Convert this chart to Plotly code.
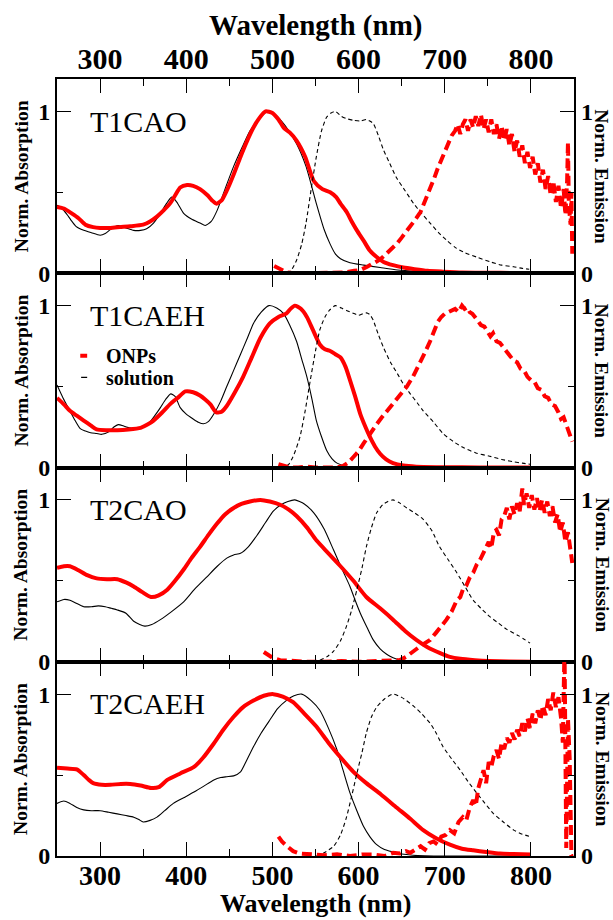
import plotly.graph_objects as go

FONT = "Liberation Serif, Times New Roman, serif"

panel_names = ["T1CAO", "T1CAEH", "T2CAO", "T2CAEH"]
tick_vals_x = [300, 400, 500, 600, 700, 800]

# ---------------- T1CAO ----------------
t1cao_onp_abs_wl = [250, 258, 267, 275, 283, 292, 300, 312, 323, 335, 350, 358, 366, 374, 381, 387, 393, 401, 408, 416, 425, 430, 435, 441, 447, 455, 463, 470, 478, 485, 492, 500, 507, 513, 520, 528, 538, 548, 558, 567, 574, 579, 586, 592, 598, 606, 613, 621, 629, 640, 652, 665, 680, 698, 720, 750, 780, 800]
t1cao_onp_abs = [0.41, 0.40, 0.37, 0.34, 0.30, 0.285, 0.28, 0.28, 0.285, 0.29, 0.30, 0.32, 0.35, 0.39, 0.43, 0.48, 0.53, 0.545, 0.54, 0.52, 0.48, 0.45, 0.43, 0.45, 0.51, 0.61, 0.72, 0.81, 0.90, 0.96, 1.0, 0.99, 0.95, 0.90, 0.87, 0.82, 0.72, 0.57, 0.52, 0.50, 0.47, 0.43, 0.38, 0.32, 0.265, 0.20, 0.14, 0.10, 0.07, 0.05, 0.035, 0.025, 0.015, 0.01, 0.005, 0.003, 0.002, 0.0]
t1cao_sol_abs_wl = [250, 256, 262, 266, 272, 281, 290, 300, 306, 312, 321, 330, 339, 347, 354, 362, 370, 377, 383, 389, 397, 406, 416, 422, 429, 436, 445, 455, 465, 474, 484, 494, 505, 515, 528, 539, 551, 560, 567, 573, 579, 590, 606, 625, 645, 670, 698, 730, 770, 800]
t1cao_sol_abs = [0.42, 0.40, 0.36, 0.33, 0.29, 0.265, 0.25, 0.235, 0.245, 0.27, 0.295, 0.28, 0.265, 0.265, 0.275, 0.31, 0.37, 0.43, 0.47, 0.44, 0.37, 0.335, 0.31, 0.295, 0.32, 0.39, 0.52, 0.66, 0.78, 0.88, 0.95, 1.0, 0.97, 0.91, 0.80, 0.66, 0.43, 0.27, 0.18, 0.12, 0.09, 0.065, 0.05, 0.035, 0.02, 0.012, 0.006, 0.003, 0.001, 0.0]
t1cao_sol_em_wl = [517, 522, 528, 534, 539, 545, 551, 557, 563, 568, 573, 580, 586, 594, 602, 609, 613, 617, 623, 629, 636, 644, 654, 664, 673, 683, 693, 703, 712, 722, 737, 753, 766, 780, 790, 798]
t1cao_sol_em = [0.0, 0.02, 0.08, 0.18, 0.31, 0.52, 0.72, 0.88, 0.965, 0.99, 1.0, 0.97, 0.955, 0.945, 0.94, 0.95, 0.94, 0.925, 0.85, 0.76, 0.68, 0.59, 0.51, 0.43, 0.37, 0.31, 0.25, 0.20, 0.16, 0.13, 0.10, 0.07, 0.05, 0.04, 0.03, 0.025]
t1cao_onp_em_wl = [502, 507, 512, 517, 525, 535, 545, 555, 565, 575, 585, 595, 602, 610, 617, 625, 632, 638, 644, 650, 656, 662, 667, 672, 676, 680, 684, 688, 692, 696, 700, 704, 708, 712, 715, 718, 721, 724, 727, 730, 733, 736, 739, 742, 745, 748, 751, 754, 757, 760, 763, 766, 769, 772, 775, 778, 781, 784, 787, 790, 793, 796, 799, 802, 805, 808, 811, 814, 817, 820, 823, 826, 829, 832, 835, 838, 840, 842, 843, 844, 846, 847, 848]
t1cao_onp_em = [0.045, 0.03, 0.015, 0.005, 0.0, 0.0, 0.0, 0.0, 0.0, 0.005, 0.005, 0.015, 0.02, 0.04, 0.06, 0.085, 0.12, 0.15, 0.18, 0.22, 0.26, 0.30, 0.34, 0.38, 0.43, 0.48, 0.53, 0.59, 0.65, 0.70, 0.76, 0.80, 0.85, 0.88, 0.92, 0.86, 0.92, 0.95, 0.88, 0.95, 0.90, 0.97, 0.91, 0.98, 0.89, 0.95, 0.87, 0.95, 0.86, 0.92, 0.83, 0.91, 0.82, 0.89, 0.79, 0.86, 0.75, 0.82, 0.72, 0.79, 0.68, 0.75, 0.65, 0.72, 0.61, 0.68, 0.56, 0.64, 0.52, 0.60, 0.48, 0.57, 0.44, 0.54, 0.40, 0.52, 0.36, 0.57, 0.81, 0.42, 0.30, 0.50, 0.12]

# ---------------- T1CAEH ----------------
t1caeh_onp_abs_wl = [250, 258, 265, 273, 281, 289, 296, 308, 320, 333, 347, 355, 362, 372, 381, 390, 399, 408, 416, 422, 428, 435, 441, 447, 456, 466, 476, 486, 497, 507, 516, 521, 526, 533, 540, 547, 555, 561, 567, 573, 579, 585, 590, 596, 602, 608, 613, 619, 625, 632, 640, 652, 667, 690, 720, 760, 800]
t1caeh_onp_abs = [0.43, 0.39, 0.35, 0.32, 0.29, 0.26, 0.235, 0.23, 0.23, 0.235, 0.245, 0.265, 0.29, 0.34, 0.39, 0.43, 0.47, 0.465, 0.445, 0.42, 0.39, 0.34, 0.345, 0.38, 0.46, 0.56, 0.68, 0.80, 0.89, 0.93, 0.95, 0.98, 1.0, 0.98, 0.93, 0.85, 0.76, 0.73, 0.72, 0.70, 0.68, 0.62, 0.54, 0.44, 0.33, 0.25, 0.19, 0.13, 0.085, 0.05, 0.027, 0.012, 0.005, 0.002, 0.001, 0.0, 0.0]
t1caeh_sol_abs_wl = [250, 257, 265, 271, 277, 283, 289, 296, 302, 310, 316, 321, 328, 334, 339, 346, 354, 362, 370, 376, 382, 387, 393, 400, 408, 414, 420, 426, 432, 440, 447, 455, 463, 471, 478, 487, 496, 505, 513, 520, 528, 534, 540, 546, 551, 557, 563, 569, 575, 586, 600, 630, 700, 800]
t1caeh_sol_abs = [0.51, 0.43, 0.35, 0.29, 0.24, 0.225, 0.215, 0.21, 0.205, 0.22, 0.25, 0.265, 0.255, 0.245, 0.24, 0.245, 0.26, 0.31, 0.37, 0.42, 0.455, 0.44, 0.37, 0.33, 0.30, 0.28, 0.27, 0.285, 0.33, 0.41, 0.50, 0.60, 0.70, 0.80, 0.89, 0.96, 1.0, 0.985, 0.95, 0.88, 0.78, 0.67, 0.56, 0.42, 0.29, 0.19, 0.105, 0.055, 0.027, 0.008, 0.003, 0.001, 0.0, 0.0]
t1caeh_sol_em_wl = [509, 514, 519, 525, 532, 538, 544, 550, 555, 561, 566, 573, 580, 586, 593, 600, 605, 609, 613, 617, 623, 629, 637, 645, 652, 660, 668, 675, 687, 698, 710, 721, 736, 752, 766, 780, 790, 799]
t1caeh_sol_em = [0.0, 0.005, 0.02, 0.08, 0.19, 0.35, 0.54, 0.72, 0.85, 0.93, 0.97, 1.0, 0.985, 0.97, 0.955, 0.94, 0.95, 0.955, 0.945, 0.91, 0.82, 0.74, 0.65, 0.58, 0.515, 0.455, 0.40, 0.35, 0.28, 0.21, 0.16, 0.125, 0.09, 0.07, 0.05, 0.035, 0.027, 0.02]
t1caeh_onp_em_wl = [507, 512, 520, 530, 540, 550, 560, 570, 575, 582, 588, 594, 600, 606, 613, 620, 627, 636, 645, 656, 663, 671, 677, 683, 688, 692, 696, 700, 704, 708, 712, 716, 720, 723, 726, 729, 732, 735, 738, 742, 746, 750, 753, 756, 760, 764, 768, 772, 776, 780, 784, 788, 792, 796, 800, 804, 808, 812, 816, 820, 824, 828, 832, 835, 838, 841, 844, 846, 848]
t1caeh_onp_em = [0.02, 0.01, 0.0, 0.0, 0.005, 0.0, 0.0, 0.005, 0.0, 0.01, 0.03, 0.065, 0.10, 0.15, 0.21, 0.26, 0.31, 0.37, 0.43, 0.50, 0.56, 0.64, 0.71, 0.78, 0.85, 0.90, 0.93, 0.95, 0.96, 0.97, 0.98, 0.96, 1.0, 0.98, 0.99, 0.96, 0.95, 0.93, 0.91, 0.88, 0.87, 0.84, 0.81, 0.83, 0.78, 0.77, 0.74, 0.72, 0.69, 0.66, 0.65, 0.61, 0.60, 0.56, 0.54, 0.53, 0.49, 0.48, 0.44, 0.43, 0.39, 0.38, 0.34, 0.30, 0.31, 0.26, 0.23, 0.19, 0.16]

# ---------------- T2CAO ----------------
t2cao_onp_abs_wl = [250, 258, 265, 275, 285, 296, 308, 320, 330, 339, 349, 359, 368, 378, 387, 397, 406, 416, 426, 436, 445, 455, 464, 474, 486, 497, 509, 519, 528, 540, 551, 565, 579, 594, 609, 625, 640, 654, 667, 680, 694, 706, 718, 735, 752, 775, 800]
t2cao_onp_abs = [0.58, 0.59, 0.59, 0.565, 0.535, 0.515, 0.51, 0.51, 0.49, 0.465, 0.43, 0.40, 0.41, 0.445, 0.50, 0.57, 0.64, 0.71, 0.785, 0.855, 0.91, 0.95, 0.975, 0.99, 1.0, 0.99, 0.97, 0.94, 0.90, 0.83, 0.75, 0.67, 0.59, 0.50, 0.40, 0.33, 0.26, 0.19, 0.135, 0.09, 0.055, 0.03, 0.018, 0.01, 0.005, 0.002, 0.0]
t2cao_sol_abs_wl = [250, 258, 265, 273, 281, 290, 298, 306, 313, 320, 330, 339, 346, 352, 360, 370, 383, 397, 410, 424, 436, 447, 455, 463, 472, 482, 492, 501, 510, 518, 526, 537, 548, 560, 571, 581, 590, 596, 602, 610, 617, 625, 633, 640, 648, 660, 680, 720, 800]
t2cao_sol_abs = [0.37, 0.385, 0.38, 0.36, 0.34, 0.34, 0.345, 0.34, 0.33, 0.32, 0.30, 0.25, 0.23, 0.22, 0.23, 0.26, 0.31, 0.37, 0.45, 0.525, 0.59, 0.64, 0.66, 0.67, 0.71, 0.78, 0.86, 0.93, 0.97, 0.99, 1.0, 0.975, 0.92, 0.82, 0.69, 0.57, 0.465, 0.38, 0.30, 0.21, 0.135, 0.08, 0.045, 0.025, 0.012, 0.005, 0.002, 0.0, 0.0]
t2cao_sol_em_wl = [555, 563, 571, 579, 586, 592, 598, 604, 609, 615, 621, 628, 634, 640, 648, 656, 665, 675, 685, 694, 704, 714, 724, 733, 742, 752, 762, 772, 786, 799]
t2cao_sol_em = [0.01, 0.03, 0.065, 0.13, 0.22, 0.32, 0.445, 0.58, 0.71, 0.83, 0.92, 0.97, 0.99, 1.0, 0.98, 0.95, 0.92, 0.88, 0.81, 0.71, 0.63, 0.55, 0.46, 0.38, 0.33, 0.28, 0.24, 0.20, 0.16, 0.115]
t2cao_onp_em_wl = [490, 495, 500, 509, 520, 540, 560, 580, 600, 620, 640, 648, 655, 663, 670, 677, 683, 690, 696, 702, 708, 714, 718, 721, 725, 729, 733, 737, 741, 745, 748, 751, 754, 757, 760, 763, 766, 769, 772, 775, 778, 781, 784, 787, 790, 792, 795, 798, 801, 804, 807, 810, 813, 816, 819, 822, 825, 828, 831, 834, 837, 840, 843, 846, 848]
t2cao_onp_em = [0.06, 0.04, 0.025, 0.01, 0.005, 0.0, 0.0, 0.005, 0.0, 0.005, 0.01, 0.01, 0.03, 0.065, 0.09, 0.115, 0.135, 0.18, 0.22, 0.26, 0.31, 0.38, 0.40, 0.445, 0.47, 0.52, 0.55, 0.60, 0.63, 0.67, 0.71, 0.74, 0.70, 0.80, 0.815, 0.78, 0.88, 0.90, 0.95, 0.88, 0.96, 0.91, 0.98, 0.93, 1.07, 0.97, 1.04, 0.95, 1.03, 0.94, 1.01, 0.93, 1.00, 0.92, 0.99, 0.90, 0.96, 0.86, 0.91, 0.80, 0.86, 0.74, 0.80, 0.68, 0.61]

# ---------------- T2CAEH ----------------
t2caeh_onp_abs_wl = [250, 262, 273, 281, 287, 292, 302, 312, 324, 335, 347, 359, 368, 378, 393, 409, 420, 432, 443, 455, 466, 478, 490, 501, 512, 524, 537, 551, 565, 579, 594, 609, 626, 644, 660, 675, 690, 706, 720, 733, 748, 764, 780, 800]
t2caeh_onp_abs = [0.545, 0.54, 0.535, 0.50, 0.47, 0.45, 0.44, 0.44, 0.445, 0.445, 0.435, 0.42, 0.425, 0.47, 0.51, 0.55, 0.61, 0.695, 0.78, 0.86, 0.92, 0.96, 0.99, 1.0, 0.985, 0.95, 0.88, 0.80, 0.70, 0.61, 0.52, 0.45, 0.38, 0.30, 0.23, 0.16, 0.11, 0.07, 0.045, 0.035, 0.025, 0.015, 0.012, 0.01]
t2caeh_sol_abs_wl = [250, 258, 265, 273, 281, 290, 300, 310, 320, 330, 339, 345, 350, 358, 366, 375, 385, 397, 409, 420, 432, 440, 447, 455, 463, 470, 478, 487, 497, 506, 516, 525, 534, 545, 555, 565, 575, 582, 590, 598, 606, 613, 621, 630, 640, 650, 663, 700, 800]
t2caeh_sol_abs = [0.325, 0.34, 0.325, 0.30, 0.285, 0.28, 0.28, 0.27, 0.26, 0.25, 0.24, 0.225, 0.21, 0.22, 0.24, 0.28, 0.325, 0.36, 0.395, 0.43, 0.47, 0.485, 0.49, 0.495, 0.52, 0.59, 0.675, 0.76, 0.84, 0.91, 0.96, 0.99, 1.0, 0.96, 0.90, 0.79, 0.655, 0.53, 0.39, 0.28, 0.18, 0.12, 0.07, 0.04, 0.025, 0.012, 0.005, 0.0, 0.0]
t2caeh_sol_em_wl = [551, 560, 571, 579, 586, 592, 598, 604, 609, 615, 621, 630, 640, 650, 663, 673, 683, 690, 698, 708, 718, 727, 737, 746, 756, 768, 780, 790, 799]
t2caeh_sol_em = [0.0, 0.02, 0.06, 0.13, 0.24, 0.37, 0.51, 0.64, 0.76, 0.86, 0.92, 0.97, 1.0, 0.98, 0.93, 0.88, 0.82, 0.76, 0.675, 0.60, 0.53, 0.46, 0.39, 0.33, 0.265, 0.21, 0.16, 0.135, 0.12]
t2caeh_onp_em_wl = [507, 511, 517, 524, 532, 545, 560, 575, 590, 605, 617, 630, 640, 648, 655, 660, 667, 672, 677, 682, 687, 692, 696, 701, 706, 711, 716, 721, 725, 729, 733, 736, 739, 742, 745, 748, 751, 754, 757, 760, 763, 766, 769, 772, 775, 778, 781, 784, 787, 790, 793, 796, 799, 802, 805, 808, 811, 814, 817, 820, 823, 826, 829, 832, 835, 837, 839, 841, 843, 845, 847, 849]
t2caeh_onp_em = [0.12, 0.09, 0.06, 0.03, 0.015, 0.01, 0.005, 0.01, 0.0, 0.01, 0.01, 0.0, 0.02, 0.015, 0.03, 0.02, 0.04, 0.06, 0.04, 0.08, 0.09, 0.07, 0.12, 0.13, 0.16, 0.14, 0.21, 0.24, 0.22, 0.30, 0.345, 0.31, 0.42, 0.47, 0.53, 0.45, 0.58, 0.55, 0.62, 0.655, 0.60, 0.70, 0.66, 0.73, 0.70, 0.76, 0.72, 0.78, 0.74, 0.82, 0.77, 0.85, 0.79, 0.88, 0.82, 0.90, 0.84, 0.93, 0.87, 0.97, 0.90, 1.01, 0.92, 0.98, 0.85, 0.70, 1.30, 0.05, 0.85, 0.60, 0.0, 0.0]

panels = [
    (t1cao_sol_abs_wl, t1cao_sol_abs, t1cao_onp_abs_wl, t1cao_onp_abs, t1cao_sol_em_wl, t1cao_sol_em, t1cao_onp_em_wl, t1cao_onp_em),
    (t1caeh_sol_abs_wl, t1caeh_sol_abs, t1caeh_onp_abs_wl, t1caeh_onp_abs, t1caeh_sol_em_wl, t1caeh_sol_em, t1caeh_onp_em_wl, t1caeh_onp_em),
    (t2cao_sol_abs_wl, t2cao_sol_abs, t2cao_onp_abs_wl, t2cao_onp_abs, t2cao_sol_em_wl, t2cao_sol_em, t2cao_onp_em_wl, t2cao_onp_em),
    (t2caeh_sol_abs_wl, t2caeh_sol_abs, t2caeh_onp_abs_wl, t2caeh_onp_abs, t2caeh_sol_em_wl, t2caeh_sol_em, t2caeh_onp_em_wl, t2caeh_onp_em),
]

RED = "#ff0000"
fig = go.Figure()

def ax_id(prefix, n):
    return prefix if n == 1 else f"{prefix}{n}"

for i, (swl, sab, owl, oab, sewl, sem, oewl, oem) in enumerate(panels):
    xr = ax_id("x", i + 1)
    yl = ax_id("y", i + 1)
    yr = f"y{i + 5}"
    fig.add_trace(go.Scatter(x=swl, y=sab, xaxis=xr, yaxis=yl, mode="lines",
                             line=dict(color="black", width=1.1, shape="spline", smoothing=0.6),
                             name="solution", showlegend=False))
    fig.add_trace(go.Scatter(x=owl, y=oab, xaxis=xr, yaxis=yl, mode="lines",
                             line=dict(color=RED, width=4, shape="spline", smoothing=0.6),
                             name="ONPs", showlegend=False))
    fig.add_trace(go.Scatter(x=sewl, y=sem, xaxis=xr, yaxis=yr, mode="lines",
                             line=dict(color="black", width=1.1, dash="4px,3px", shape="spline", smoothing=0.6),
                             name="solution emission", showlegend=False))
    fig.add_trace(go.Scatter(x=oewl, y=oem, xaxis=xr, yaxis=yr, mode="lines",
                             line=dict(color=RED, width=4, dash="10px,5px"),
                             name="ONPs emission", showlegend=False))

layout = dict(
    width=613, height=920,
    margin=dict(l=57, r=39, t=79, b=64),
    plot_bgcolor="white", paper_bgcolor="white",
    showlegend=False,
    font=dict(family=FONT, color="black"),
)

for i in range(4):
    dom = [0.75 - 0.25 * i, 1.0 - 0.25 * i]
    xa = dict(
        range=[250, 850], domain=[0, 1], anchor=ax_id("y", i + 1),
        showline=True, linecolor="black", linewidth=2, mirror="ticks",
        ticks="inside", ticklen=14, tickwidth=1.3, tickcolor="black",
        tickmode="array", tickvals=tick_vals_x,
        minor=dict(tickmode="array", tickvals=[250, 350, 450, 550, 650, 750, 850],
                   ticks="inside", ticklen=7, tickwidth=1.3, tickcolor="black"),
        showgrid=False, zeroline=False,
        showticklabels=(i in (0, 3)),
        side="top" if i == 0 else "bottom",
        ticklabelstandoff=-4 if i == 0 else -7,
        tickfont=dict(family=FONT, size=30 if i == 0 else 28, color="black", weight="bold"),
    )
    if i > 0:
        xa["matches"] = "x"
    layout["xaxis" if i == 0 else f"xaxis{i + 1}"] = xa
    ya = dict(
        range=[0, 1.2], domain=dom, anchor=ax_id("x", i + 1),
        showline=True, linecolor="black", linewidth=2, mirror="ticks",
        ticks="inside", ticklen=14, tickwidth=1.3, tickcolor="black",
        tickmode="array", tickvals=[0, 1], ticktext=["0", "1"],
        minor=dict(tickmode="array", tickvals=[0.5], ticks="inside", ticklen=6,
                   tickwidth=1.3, tickcolor="black"),
        showgrid=False, zeroline=False,
        tickfont=dict(family=FONT, size=24, color="black", weight="bold"),
    )
    layout["yaxis" if i == 0 else f"yaxis{i + 1}"] = ya
    yr = dict(
        range=[0, 1.2], overlaying=ax_id("y", i + 1), anchor=ax_id("x", i + 1), side="right",
        showline=False, ticks="", tickmode="array", tickvals=[0, 1], ticktext=["0", "1"],
        showgrid=False, zeroline=False,
        tickfont=dict(family=FONT, size=24, color="black", weight="bold"),
        ticklabelstandoff=6,
    )
    layout[f"yaxis{i + 5}"] = yr

fig.update_layout(**layout)

annotations = []
annotations.append(dict(text="Wavelength (nm)", xref="paper", yref="paper", x=0.5, y=1.069,
                        showarrow=False, xanchor="center", yanchor="middle",
                        font=dict(family=FONT, size=29, color="black", weight="bold")))
annotations.append(dict(text="Wavelength (nm)", xref="paper", yref="paper", x=0.5, y=-0.0805,
                        showarrow=False, xanchor="center", yanchor="bottom", borderpad=0,
                        font=dict(family=FONT, size=26, color="black", weight="bold")))
for i, name in enumerate(panel_names):
    ycen = 0.875 - 0.25 * i
    annotations.append(dict(text="Norm. Absorption", xref="paper", yref="paper", x=-0.0696, y=ycen,
                            showarrow=False, textangle=-90, xanchor="center", yanchor="middle",
                            font=dict(family=FONT, size=19.5, color="black", weight="bold")))
    annotations.append(dict(text="Norm. Emission", xref="paper", yref="paper", x=1.054, y=ycen,
                            showarrow=False, textangle=90, xanchor="center", yanchor="middle",
                            font=dict(family=FONT, size=19.5, color="black", weight="bold")))
    annotations.append(dict(text=name, xref=ax_id("x", i + 1), yref=ax_id("y", i + 1), x=286, y=0.94,
                            showarrow=False, xanchor="left", yanchor="middle",
                            font=dict(family=FONT, size=30, color="black")))

# legend in panel 2
annotations.append(dict(text="ONPs", xref="x2", yref="y2", x=304, y=0.69, showarrow=False,
                        xanchor="left", yanchor="middle",
                        font=dict(family=FONT, size=20, color="black", weight="bold")))
annotations.append(dict(text="solution", xref="x2", yref="y2", x=304, y=0.55, showarrow=False,
                        xanchor="left", yanchor="middle",
                        font=dict(family=FONT, size=20, color="black", weight="bold")))
fig.update_layout(annotations=annotations)

fig.add_shape(type="line", xref="x2", yref="y2", x0=277, x1=285, y0=0.69, y1=0.69,
              line=dict(color=RED, width=4))
fig.add_shape(type="line", xref="x2", yref="y2", x0=278, x1=285, y0=0.557, y1=0.557,
              line=dict(color="black", width=1.1))

fig.write_html("out.html")
